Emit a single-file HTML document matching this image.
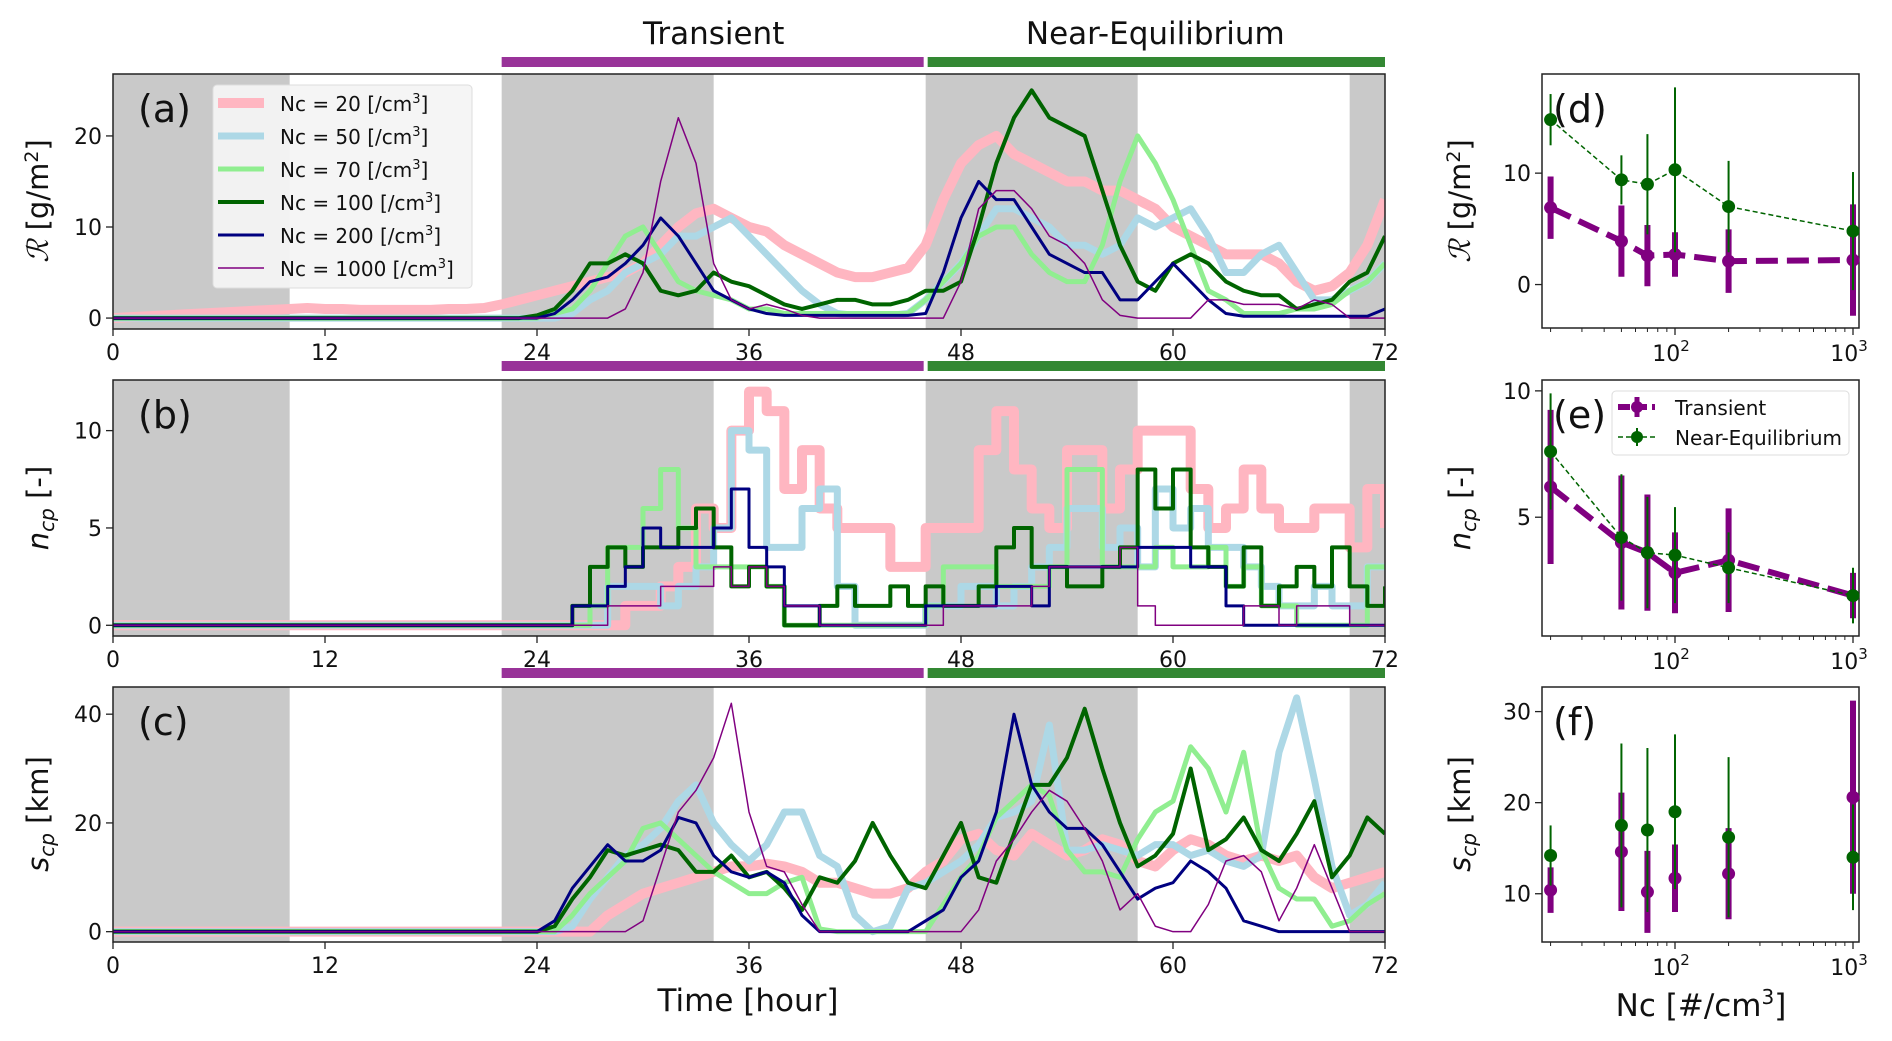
<!DOCTYPE html>
<html><head><meta charset="utf-8">
<style>
html,body{margin:0;padding:0;background:#fff;}
svg{display:block;font-family:"DejaVu Sans","Liberation Sans",sans-serif;}
</style></head>
<body>
<svg id="fig" width="1892" height="1041" viewBox="0 0 1892 1041" xmlns="http://www.w3.org/2000/svg"></svg>
<script>
// ---------- data ----------
const hours = Array.from({length:73},(_,i)=>i);
const ncLabels = ['20','50','70','100','200','1000'];
// Panel (a) R [g/m2], hourly
const rA20  = [0,0.1,0.2,0.3,0.4,0.5,0.6,0.7,0.8,0.9,1,1.1,1,1,0.9,0.9,0.9,0.9,0.9,1,1,1.1,1.5,2,2.5,3,3.5,4,4.5,5,6,8,10,11.5,12,11,10,9.5,8,7,6,5,4.5,4.5,5,5.5,8,13,17,19,20,18,17,16,15,15,14,14,13,12,10,9,8,7,7,7,6,4,3,3.5,5,8,13];
const rA50  = [0,0,0,0,0,0,0,0,0,0,0,0,0,0,0,0,0,0,0,0,0,0,0,0,0,0,0.5,2,3,5,6,7,9,9,10,11,9,7,5,3,1.5,0.5,0.3,0.3,0.3,0.5,2,4,6,9,12,12,11,10,8,8,7,8,11,10,11,12,9,5,5,7,8,5,2,2,3,4,6];
const rA70  = [0,0,0,0,0,0,0,0,0,0,0,0,0,0,0,0,0,0,0,0,0,0,0,0,0,0.5,1,3,6,9,10,7,4,3,2.5,2,1,1,0.5,0.5,0.5,0.5,0.5,0.5,0.5,0.5,2,4,6,9,10,10,7,5,4,4,8,15,20,17,13,8,3,2,0.5,0.5,0.5,1,1,1.5,3,4,6];
const rA100 = [0,0,0,0,0,0,0,0,0,0,0,0,0,0,0,0,0,0,0,0,0,0,0,0,0.3,1,3,6,6,7,6,3,2.5,3,5,4,3.5,2.5,1.5,1,1.5,2,2,1.5,1.5,2,3,3,4,10,17,22,25,22,21,20,14,8,4,3,6,7,6,4,3,2.5,2.5,1,1.5,2,4,5,9];
const rA200 = [0,0,0,0,0,0,0,0,0,0,0,0,0,0,0,0,0,0,0,0,0,0,0,0,0,0.5,2,4,4.5,6,8,11,9,6,3,2,1,0.5,0.3,0.3,0.3,0.3,0.3,0.3,0.3,0.3,0.5,5,11,15,13,13,10,7,6,5,5,2,2,4,6,4,2,0.5,0.2,0.2,0.2,0.2,0.2,0.2,0.2,0.2,1];
const rA1000= [0,0,0,0,0,0,0,0,0,0,0,0,0,0,0,0,0,0,0,0,0,0,0,0,0,0,0,0,0,1,5,15,22,17,6,2,1,1.5,1,0.3,0,0,0,0,0,0,0,0,4,12,14,14,12,9,8,6,2,0.3,0,0,0,0,2,2,1.5,1.5,1.5,1,2,1.5,0,0,0];
// Panel (b) ncp, hourly steps
const nB20  = [0,0,0,0,0,0,0,0,0,0,0,0,0,0,0,0,0,0,0,0,0,0,0,0,0,0,0,0,0,1,1,2,3,6,5,10,12,11,7,9,6,5,5,5,3,3,5,5,5,9,11,8,6,5,9,9,6,8,10,10,10,7,5,6,8,6,5,5,6,6,4,7,5];
const nB50  = [0,0,0,0,0,0,0,0,0,0,0,0,0,0,0,0,0,0,0,0,0,0,0,0,0,0,0,0,2,2,2,1,2,3,5,10,9,4,4,6,7,2,0,0,0,0,1,1,2,2,1,2,3,4,6,6,4,5,3,7,5,6,4,4,3,2,1,1,2,1,1,3,3];
const nB70  = [0,0,0,0,0,0,0,0,0,0,0,0,0,0,0,0,0,0,0,0,0,0,0,0,0,0,0,1,4,4,6,8,5,3,3,3,3,2,0,0,0,0,0,0,0,0,1,3,3,3,2,2,2,3,8,8,3,3,3,4,3,3,4,2,3,1,1,0,0,0,0,3,3];
const nB100 = [0,0,0,0,0,0,0,0,0,0,0,0,0,0,0,0,0,0,0,0,0,0,0,0,0,0,1,3,4,3,4,4,5,6,4,2,3,2,0,0,1,2,1,1,2,1,2,1,1,2,4,5,3,3,2,2,3,4,8,6,8,4,3,2,4,1,2,3,2,4,2,1,2];
const nB200 = [0,0,0,0,0,0,0,0,0,0,0,0,0,0,0,0,0,0,0,0,0,0,0,0,0,0,1,1,2,3,5,4,4,4,5,7,4,3,1,1,0,0,0,0,0,0,1,1,1,1,2,2,1,3,3,3,3,3,4,4,4,3,3,1,0,0,0,0,0,0,0,0,0];
const nB1000= [0,0,0,0,0,0,0,0,0,0,0,0,0,0,0,0,0,0,0,0,0,0,0,0,0,0,0,0,1,1,1,2,2,2,3,2,3,2,1,1,0,0,0,0,0,0,0,1,1,1,1,1,2,3,3,3,3,4,1,0,0,0,0,0,1,1,0,1,1,1,0,0,0];
// Panel (c) scp [km], hourly
const sC20  = [0,0,0,0,0,0,0,0,0,0,0,0,0,0,0,0,0,0,0,0,0,0,0,0,0,0,0,0,3,5,7,8,9,10,11,12,12,12.5,12,11,9,9,8,7,7,8,11,13,17,18,15,14,18,16,14,15,17,16,13,12,15,17,16,14,13,14,13,14,10,8,9,10,11];
const sC50  = [0,0,0,0,0,0,0,0,0,0,0,0,0,0,0,0,0,0,0,0,0,0,0,0,0,0,1,6,10,14,16,19,24,27,20,16,13,16,22,22,14,12,3,0,1,8,9,11,13,16,21,22,24,38,15,15,16,15,14,16,16,14,15,13,12,14,33,43,28,12,3,5,9];
const sC70  = [0,0,0,0,0,0,0,0,0,0,0,0,0,0,0,0,0,0,0,0,0,0,0,0,0,0,3,7,10,13,19,20,17,14,11,9,7,7,9,10,0.5,0,0,0,0,0,0,5,10,14,21,24,27,25,15,11,11,10,17,22,24,34,30,22,33,15,8,6,6,1,2,5,7];
const sC100 = [0,0,0,0,0,0,0,0,0,0,0,0,0,0,0,0,0,0,0,0,0,0,0,0,0,1,6,10,15,14,15,16,15,11,11,14,10,11,8,4,10,9,13,20,14,9,8,14,20,10,9,18,27,27,32,41,30,20,12,14,18,30,15,17,21,15,13,18,24,10,14,21,18];
const sC200 = [0,0,0,0,0,0,0,0,0,0,0,0,0,0,0,0,0,0,0,0,0,0,0,0,0,2,8,12,16,13,13,15,21,20,14,11,10,11,9,3,0,0,0,0,0,0,2,4,10,13,22,40,27,22,19,19,16,11,6,8,9,13,11,8,2,1,0,0,0,0,0,0,0];
const sC1000= [0,0,0,0,0,0,0,0,0,0,0,0,0,0,0,0,0,0,0,0,0,0,0,0,0,0,0,0,0,0,2,12,22,26,32,42,22,12,11,5,0,0,0,0,0,0,0,0,0,4,13,17,22,26,24,19,13,4,7,1,0,0,5,13,14,11,2,8,16,8,0,0,0];
// Right panels: Nc and stats
const ncVals = [20,50,70,100,200,1000];
const dTrMean = [6.9,3.9,2.6,2.7,2.1,2.2];
const dTrErr  = [2.8,3.2,2.75,2.0,2.85,5.0];
const dNeMean = [14.8,9.4,9.0,10.3,7.0,4.8];
const dNeErr  = [2.3,2.2,4.5,7.4,4.1,5.3];
const eTrMean = [6.2,4.0,3.6,2.8,3.3,1.9];
const eTrErr  = [3.05,2.65,2.3,1.6,2.05,0.9];
const eNeMean = [7.6,4.2,3.6,3.5,3.0,1.9];
const eNeErr  = [2.3,2.5,2.2,1.9,1.4,1.1];
const fTrMean = [10.4,14.6,10.2,11.7,12.2,20.6];
const fTrErr  = [2.5,6.5,4.5,3.7,5.0,10.6];
const fNeMean = [14.2,17.5,17.0,19.0,16.2,14.0];
const fNeErr  = [3.3,9.0,9.0,8.5,8.8,5.8];
const xTicksH = [0,12,24,36,48,60,72];
const shadeStart = [0,22,46,70];
const shadeEnd = [10,34,58,72];

// ---------- helpers ----------
const NS='http://www.w3.org/2000/svg';
const svg=document.getElementById('fig');
function el(tag,attrs,parent){const e=document.createElementNS(NS,tag);for(const k in attrs)e.setAttribute(k,attrs[k]);(parent||svg).appendChild(e);return e;}

const X0=113, X1=1385;
const xH = h => X0 + (h/72)*(X1-X0);
const panels = [
  {key:'a',top:74,bot:329,ymin:-1.2,ymax:26.8,ticks:[0,10,20],data:[rA20,rA50,rA70,rA100,rA200,rA1000],step:false},
  {key:'b',top:380,bot:636,ymin:-0.55,ymax:12.6,ticks:[0,5,10],data:[nB20,nB50,nB70,nB100,nB200,nB1000],step:true},
  {key:'c',top:687,bot:942,ymin:-1.9,ymax:45,ticks:[0,20,40],data:[sC20,sC50,sC70,sC100,sC200,sC1000],step:false}
];
const colors=['#ffb6c1','#add8e6','#90ee90','#006400','#000080','#800080'];
const widths=[10,7,5,4,3,1.5];
const TICKF=22;

panels.forEach((p,pi)=>{
  const y = v => p.bot - (v-p.ymin)/(p.ymax-p.ymin)*(p.bot-p.top);
  const g=el('g',{});
  
  
  for(let i=0;i<shadeStart.length;i++){
    const r=el('rect',{x:xH(shadeStart[i]),y:p.top,width:xH(shadeEnd[i])-xH(shadeStart[i]),height:p.bot-p.top,fill:'#c9c9c9'},g);
    
    
  }
  const cp=el('clipPath',{id:'clip'+p.key},g);
  el('rect',{x:X0,y:p.top,width:X1-X0,height:p.bot-p.top},cp);
  p.data.forEach((arr,si)=>{
    let d='';
    arr.forEach((v,i)=>{
      const px=xH(hours[i]), py=y(v);
      if(i===0) d+='M'+px+','+py;
      else if(p.step) d+='H'+px+'V'+py;
      else d+='L'+px+','+py;
    });
    const path=el('path',{d:d,fill:'none',stroke:colors[si],'stroke-width':widths[si],'stroke-linejoin':'round','clip-path':'url(#clip'+p.key+')'},g);
    
    
  });
  el('rect',{x:X0,y:p.top,width:X1-X0,height:p.bot-p.top,fill:'none',stroke:'#222','stroke-width':1.5},g);
  xTicksH.forEach(h=>{
    el('line',{x1:xH(h),x2:xH(h),y1:p.bot,y2:p.bot+7,stroke:'#222','stroke-width':1.3},g);
    const t=el('text',{x:xH(h),y:p.bot+31,'font-size':TICKF,'text-anchor':'middle',fill:'#111'},g);
    t.textContent=h;
    
    
  });
  p.ticks.forEach(v=>{
    el('line',{x1:X0-7,x2:X0,y1:y(v),y2:y(v),stroke:'#222','stroke-width':1.3},g);
    const t=el('text',{x:X0-11,y:y(v)+8,'font-size':TICKF,'text-anchor':'end',fill:'#111'},g);
    t.textContent=v;
    
    
  });
  const pl=el('text',{x:138,y:p.top+48,'font-size':38,fill:'#111'},g);
  pl.textContent='('+p.key+')';
  
  
});

[[62],[366],[673]].forEach((yy,i)=>{
  const b1=el('rect',{x:xH(22),y:yy[0]-5,width:xH(46)-xH(22)-2,height:10,fill:'#993399'});
  
  
  const b2=el('rect',{x:xH(46)+2,y:yy[0]-5,width:xH(72)-xH(46)-2,height:10,fill:'#338833'});
  
  
});
let tt=el('text',{x:(xH(22)+xH(46))/2,y:44,'font-size':31,'text-anchor':'middle',fill:'#111'});
tt.textContent='Transient';


tt=el('text',{x:(xH(46)+xH(72))/2,y:44,'font-size':31,'text-anchor':'middle',fill:'#111'});
tt.textContent='Near-Equilibrium';



const lg=el('g',{});


el('rect',{x:213,y:85,width:259,height:203,rx:4,fill:'#f4f4f4','fill-opacity':0.95,stroke:'#ddd'},lg);
const legTxt=['20','50','70','100','200','1000'];
legTxt.forEach((s,i)=>{
  const yy=103+i*33;
  el('line',{x1:218,x2:264,y1:yy,y2:yy,stroke:colors[i],'stroke-width':Math.max(widths[i],1.5)},lg);
  const t=el('text',{x:280,y:yy+8,'font-size':20,fill:'#111'},lg);
  t.innerHTML='Nc = '+s+' [/cm<tspan dy="-8" font-size="13">3</tspan><tspan dy="8">]</tspan>';
  
  
});

function ylab(x,yc,html,name){
  const t=el('text',{x:0,y:0,'font-size':29,'text-anchor':'middle',fill:'#111',transform:'translate('+x+','+yc+') rotate(-90)'});
  t.innerHTML=html;
  
  
}
ylab(48,201,'<tspan font-family="DejaVu Serif" font-style="italic">ℛ</tspan> [g/m<tspan dy="-10" font-size="19">2</tspan><tspan dy="10">]</tspan>','y-axis-title-r');
ylab(48,508,'<tspan font-style="italic">n</tspan><tspan font-style="italic" font-size="20" dy="6">cp</tspan><tspan dy="-6"> [-]</tspan>','y-axis-title-ncp');
ylab(48,814,'<tspan font-style="italic">s</tspan><tspan font-style="italic" font-size="20" dy="6">cp</tspan><tspan dy="-6"> [km]</tspan>','y-axis-title-scp');
ylab(1470,201,'<tspan font-family="DejaVu Serif" font-style="italic">ℛ</tspan> [g/m<tspan dy="-10" font-size="19">2</tspan><tspan dy="10">]</tspan>','y-axis-title-r-right');
ylab(1470,508,'<tspan font-style="italic">n</tspan><tspan font-style="italic" font-size="20" dy="6">cp</tspan><tspan dy="-6"> [-]</tspan>','y-axis-title-ncp-right');
ylab(1470,814,'<tspan font-style="italic">s</tspan><tspan font-style="italic" font-size="20" dy="6">cp</tspan><tspan dy="-6"> [km]</tspan>','y-axis-title-scp-right');

let xl=el('text',{x:748,y:1011,'font-size':31,'text-anchor':'middle',fill:'#111'});
xl.textContent='Time [hour]';


xl=el('text',{x:1701,y:1016,'font-size':31,'text-anchor':'middle',fill:'#111'});
xl.innerHTML='Nc [#/cm<tspan dy="-12" font-size="20">3</tspan><tspan dy="12">]</tspan>';



const RX0=1542, RX1=1859;
const lx = v => 1675 + (Math.log10(v)-2)*178;
const rpanels=[
  {key:'d',top:74,bot:328,ymin:-3.9,ymax:18.9,ticks:[0,10],tr:[dTrMean,dTrErr],ne:[dNeMean,dNeErr],lines:true},
  {key:'e',top:380,bot:636,ymin:0.3,ymax:10.43,ticks:[5,10],tr:[eTrMean,eTrErr],ne:[eNeMean,eNeErr],lines:true},
  {key:'f',top:687,bot:942,ymin:4.7,ymax:32.7,ticks:[10,20,30],tr:[fTrMean,fTrErr],ne:[fNeMean,fNeErr],lines:false}
];
rpanels.forEach(p=>{
  const y=v=>p.bot-(v-p.ymin)/(p.ymax-p.ymin)*(p.bot-p.top);
  const g=el('g',{});
  
  
  el('rect',{x:RX0,y:p.top,width:RX1-RX0,height:p.bot-p.top,fill:'#fff',stroke:'#222','stroke-width':1.5},g);
  [20,30,40,50,60,70,80,90,200,300,400,500,600,700,800,900].forEach(v=>{
    el('line',{x1:lx(v),x2:lx(v),y1:p.bot,y2:p.bot+4,stroke:'#222','stroke-width':1},g);
  });
  [[100,'2'],[1000,'3']].forEach(([v,e])=>{
    el('line',{x1:lx(v),x2:lx(v),y1:p.bot,y2:p.bot+7,stroke:'#222','stroke-width':1.3},g);
    const t=el('text',{x:lx(v)-4,y:p.bot+33,'font-size':TICKF,'text-anchor':'middle',fill:'#111'},g);
    t.innerHTML='10<tspan dy="-10" font-size="15">'+e+'</tspan>';
    
    
  });
  p.ticks.forEach(v=>{
    el('line',{x1:RX0-7,x2:RX0,y1:y(v),y2:y(v),stroke:'#222','stroke-width':1.3},g);
    const t=el('text',{x:RX0-11,y:y(v)+8,'font-size':TICKF,'text-anchor':'end',fill:'#111'},g);
    t.textContent=v;
    
    
  });
  const pl=el('text',{x:1553,y:p.top+48,'font-size':38,fill:'#111'},g);
  pl.textContent='('+p.key+')';
  
  
  const [tm,te]=p.tr;
  if(p.lines){
    let d='';
    ncVals.forEach((n,i)=>{d+=(i?'L':'M')+lx(n)+','+y(tm[i]);});
    const tl=el('path',{d:d,fill:'none',stroke:'#800080','stroke-width':6,'stroke-dasharray':'22,9'},g);
    
    
  }
  ncVals.forEach((n,i)=>{
    const eb=el('line',{x1:lx(n),x2:lx(n),y1:y(tm[i]-te[i]),y2:y(tm[i]+te[i]),stroke:'#800080','stroke-width':6},g);
    
    
    const c=el('circle',{cx:lx(n),cy:y(tm[i]),r:6.5,fill:'#800080'},g);
    
    
  });
  const [nm,ne]=p.ne;
  if(p.lines){
    let d='';
    ncVals.forEach((n,i)=>{d+=(i?'L':'M')+lx(n)+','+y(nm[i]);});
    const nl=el('path',{d:d,fill:'none',stroke:'#006400','stroke-width':1.5,'stroke-dasharray':'5,3'},g);
    
    
  }
  ncVals.forEach((n,i)=>{
    const eb=el('line',{x1:lx(n),x2:lx(n),y1:y(nm[i]-ne[i]),y2:y(nm[i]+ne[i]),stroke:'#006400','stroke-width':2},g);
    
    
    const c=el('circle',{cx:lx(n),cy:y(nm[i]),r:6.5,fill:'#006400'},g);
    
    
  });
});
const le=el('g',{});


el('rect',{x:1612,y:391,width:237,height:64,rx:4,fill:'#fff','fill-opacity':0.85,stroke:'#ddd'},le);
el('line',{x1:1618,x2:1655,y1:407,y2:407,stroke:'#800080','stroke-width':6,'stroke-dasharray':'12,5'},le);
el('line',{x1:1637,x2:1637,y1:397,y2:417,stroke:'#800080','stroke-width':5},le);
el('circle',{cx:1637,cy:407,r:6,fill:'#800080'},le);
let lt=el('text',{x:1675,y:415,'font-size':20,fill:'#111'},le);
lt.textContent='Transient';


el('line',{x1:1618,x2:1655,y1:437,y2:437,stroke:'#006400','stroke-width':1.5,'stroke-dasharray':'5,3'},le);
el('line',{x1:1637,x2:1637,y1:428,y2:446,stroke:'#006400','stroke-width':2},le);
el('circle',{cx:1637,cy:437,r:6,fill:'#006400'},le);
lt=el('text',{x:1675,y:445,'font-size':20,fill:'#111'},le);
lt.textContent='Near-Equilibrium';


</script>
</body></html>
